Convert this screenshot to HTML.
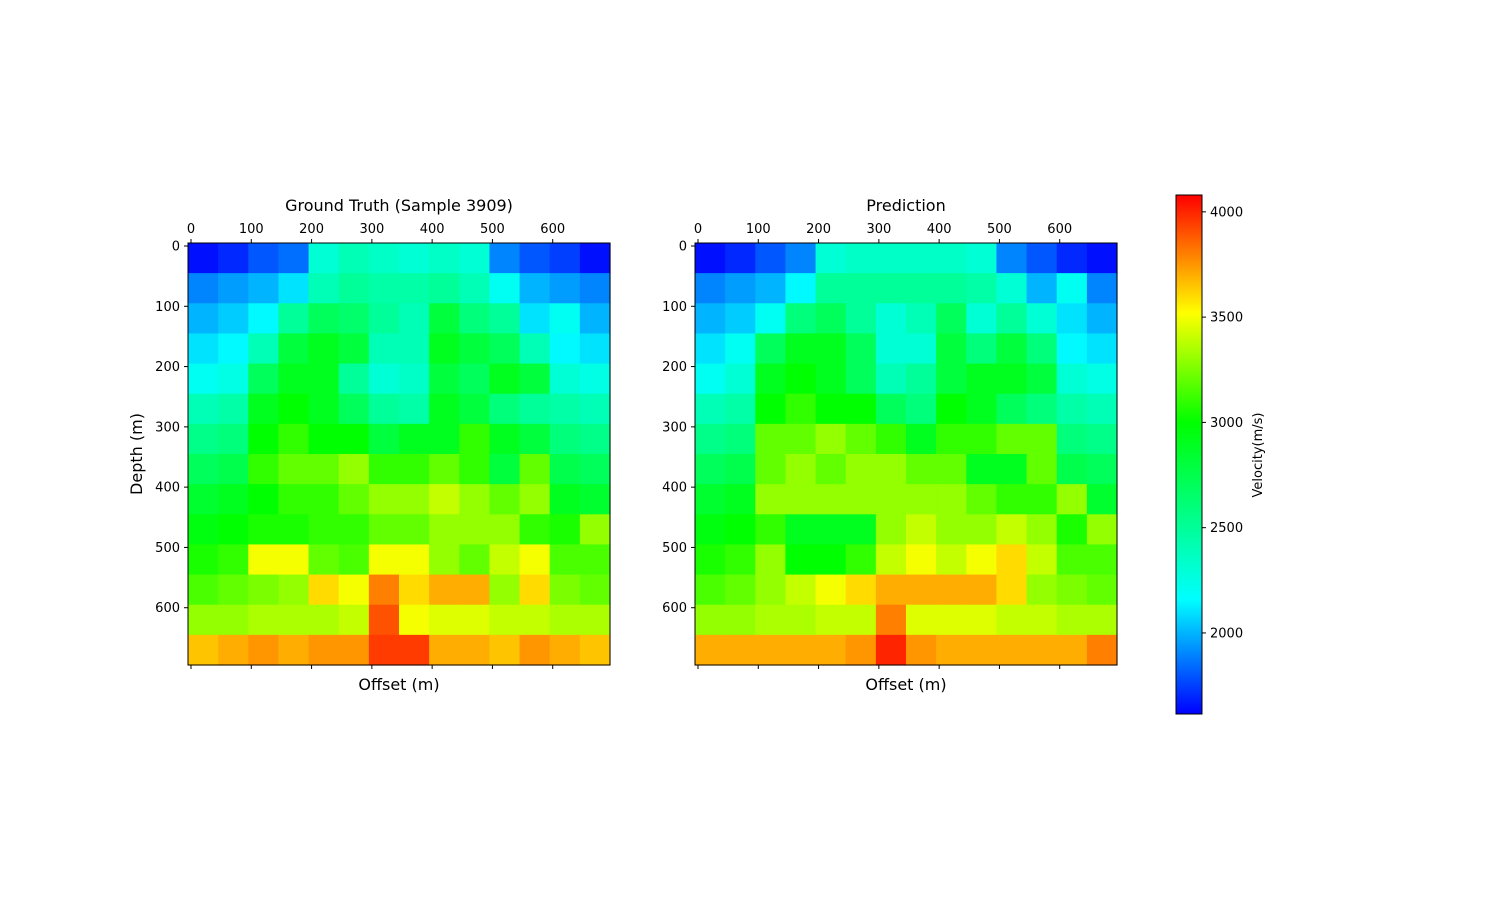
<!DOCTYPE html>
<html><head><meta charset="utf-8"><style>
body{margin:0;background:#fff;font-family:"Liberation Sans","DejaVu Sans",sans-serif}
svg text{font-family:"DejaVu Sans","Liberation Sans",sans-serif}
</style></head><body>
<svg id="fig" width="1500" height="900" xmlns="http://www.w3.org/2000/svg"></svg>
<script>
const ticks=[0,100,200,300,400,500,600];
const cbTicks=[2000,2500,3000,3500,4000];
const truthRows=[
[1650,1700,1800,1850,2300,2400,2350,2300,2350,2300,1900,1800,1750,1650],
[1900,1950,2000,2100,2400,2500,2450,2450,2500,2400,2200,2000,1950,1900],
[2000,2050,2150,2500,2700,2650,2500,2400,2800,2600,2500,2100,2200,2000],
[2100,2150,2400,2800,2900,2800,2400,2400,2900,2800,2700,2400,2150,2100],
[2200,2250,2700,2900,2900,2500,2300,2350,2800,2700,2900,2800,2300,2250],
[2400,2450,2900,3000,2900,2700,2500,2450,2900,2800,2600,2500,2450,2400],
[2550,2600,3000,3100,3000,3000,2800,2900,2900,3100,2900,2800,2600,2550],
[2700,2750,3100,3200,3200,3300,3100,3100,3200,3100,2800,3200,2750,2700],
[2850,2900,3000,3100,3100,3200,3300,3300,3400,3300,3200,3300,2900,2850],
[2950,3000,3050,3050,3100,3100,3200,3200,3300,3300,3300,3100,3050,3300],
[3050,3100,3500,3500,3200,3150,3500,3500,3300,3200,3400,3500,3150,3150],
[3150,3200,3250,3300,3600,3500,3800,3600,3700,3700,3300,3600,3250,3200],
[3300,3300,3350,3350,3350,3400,3900,3500,3450,3450,3400,3400,3350,3350],
[3650,3700,3750,3700,3750,3750,3950,3950,3700,3700,3650,3750,3700,3650]];
const predRows=[
[1650,1700,1800,1900,2300,2350,2350,2350,2350,2300,1900,1800,1700,1650],
[1900,1950,2000,2150,2500,2500,2500,2500,2500,2450,2300,2000,2200,1900],
[2000,2050,2200,2600,2700,2500,2300,2400,2700,2300,2500,2300,2100,2000],
[2100,2200,2700,2900,2900,2700,2300,2300,2800,2600,2800,2600,2150,2100],
[2200,2300,2900,3000,2900,2700,2400,2500,2800,2900,2900,2800,2300,2250],
[2400,2450,3000,3100,3000,3000,2700,2600,3000,2900,2700,2600,2450,2400],
[2550,2600,3200,3200,3300,3200,3100,2900,3100,3100,3200,3200,2600,2550],
[2700,2750,3200,3300,3200,3300,3300,3200,3200,2900,2900,3200,2750,2700],
[2850,2900,3300,3300,3300,3300,3300,3300,3300,3200,3100,3100,3300,2850],
[2950,3000,3100,2900,2900,2900,3300,3400,3300,3300,3400,3300,3050,3300],
[3050,3100,3300,3000,3000,3100,3400,3500,3400,3500,3600,3400,3150,3150],
[3150,3200,3300,3400,3500,3600,3700,3700,3700,3700,3600,3300,3250,3200],
[3300,3300,3350,3350,3400,3400,3800,3450,3450,3450,3400,3400,3350,3350],
[3700,3700,3700,3700,3700,3750,4000,3750,3700,3700,3700,3700,3700,3800]];
const vmin=1615,vmax=4080;
const stops=[[1615,[0,0,255]],[2160,[0,255,255]],[2580,[0,255,128]],[3000,[0,255,0]],[3520,[255,255,0]],[4080,[255,0,0]]];
function color(v){v=Math.max(vmin,Math.min(vmax,v));
 for(let i=0;i<stops.length-1;i++){const[a,ca]=stops[i],[b,cb]=stops[i+1];
  if(v<=b){const t=(v-a)/(b-a);return `rgb(${ca.map((c,k)=>Math.round(c+(cb[k]-c)*t)).join(',')})`;}}
 return 'rgb(255,0,0)';}
const NS='http://www.w3.org/2000/svg',svg=document.getElementById('fig');
function mk(tag,attrs,parent){const e=document.createElementNS(NS,tag);for(const k in attrs)e.setAttribute(k,attrs[k]);(parent||svg).appendChild(e);return e;}
function txt(s,attrs,parent){const e=mk('text',attrs,parent);e.textContent=s;return e;}
const S=422/700;
function panel(x0,rows,title,name,showY){
 const g=mk('g',{});
 
 
 const nR=rows.length,nC=rows[0].length,cw=422/nC,ch=422/nR;
 const sx=v=>x0+3+v*S, y0=243;
 rows.forEach((r,i)=>r.forEach((v,j)=>{
  const c=mk('rect',{x:x0+j*cw,y:y0+i*ch,width:cw+0.6,height:ch+0.6,fill:color(v)},g);
  
  
 }));
 mk('rect',{x:x0,y:y0,width:422,height:422,fill:'none',stroke:'#000','stroke-width':1},g);
 ticks.forEach(t=>{const x=sx(t);
  mk('line',{x1:x,x2:x,y1:y0,y2:y0-4,stroke:'#000'},g);
  mk('line',{x1:x,x2:x,y1:y0+422,y2:y0+426,stroke:'#000'},g);
  const l=txt(t,{x:x,y:y0-10,'font-size':13,'text-anchor':'middle'},g);
  
  
  const y=y0+3+t*S;
  mk('line',{x1:x0,x2:x0-4,y1:y,y2:y,stroke:'#000'},g);
  const yl=txt(t,{x:x0-8,y:y+4.5,'font-size':13,'text-anchor':'end'},g);
  
  
 });
 const tt=txt(title,{x:x0+211,y:211,'font-size':16,'text-anchor':'middle'},g);
 
 
 const xt=txt('Offset (m)',{x:x0+211,y:690,'font-size':16,'text-anchor':'middle'},g);
 
 
 if(showY){const yt=txt('Depth (m)',{x:0,y:0,'font-size':16,'text-anchor':'middle',transform:`translate(142,454) rotate(-90)`},g);
  
  }
}
panel(188,truthRows,'Ground Truth (Sample 3909)','ground-truth-panel',true);
panel(695,predRows,'Prediction','prediction-panel',false);
const cb=mk('g',{});


const defs=mk('defs',{},cb),lg=mk('linearGradient',{id:'cbg',x1:0,y1:1,x2:0,y2:0},defs);
stops.forEach(([v,c])=>mk('stop',{offset:(v-vmin)/(vmax-vmin),'stop-color':`rgb(${c.join(',')})`},lg));
mk('rect',{x:1176,y:195,width:26,height:519,fill:'url(#cbg)',stroke:'#000'},cb);
const cy=v=>714-(v-vmin)/(vmax-vmin)*519;
cbTicks.forEach(t=>{mk('line',{x1:1202,x2:1206,y1:cy(t),y2:cy(t),stroke:'#000'},cb);
 const l=txt(t,{x:1210,y:cy(t)+4.5,'font-size':13},cb);
 
 });
const cl=txt('Velocity(m/s)',{x:0,y:0,'font-size':13,'text-anchor':'middle',transform:'translate(1262,455) rotate(-90)'},cb);


</script>
</body></html>
